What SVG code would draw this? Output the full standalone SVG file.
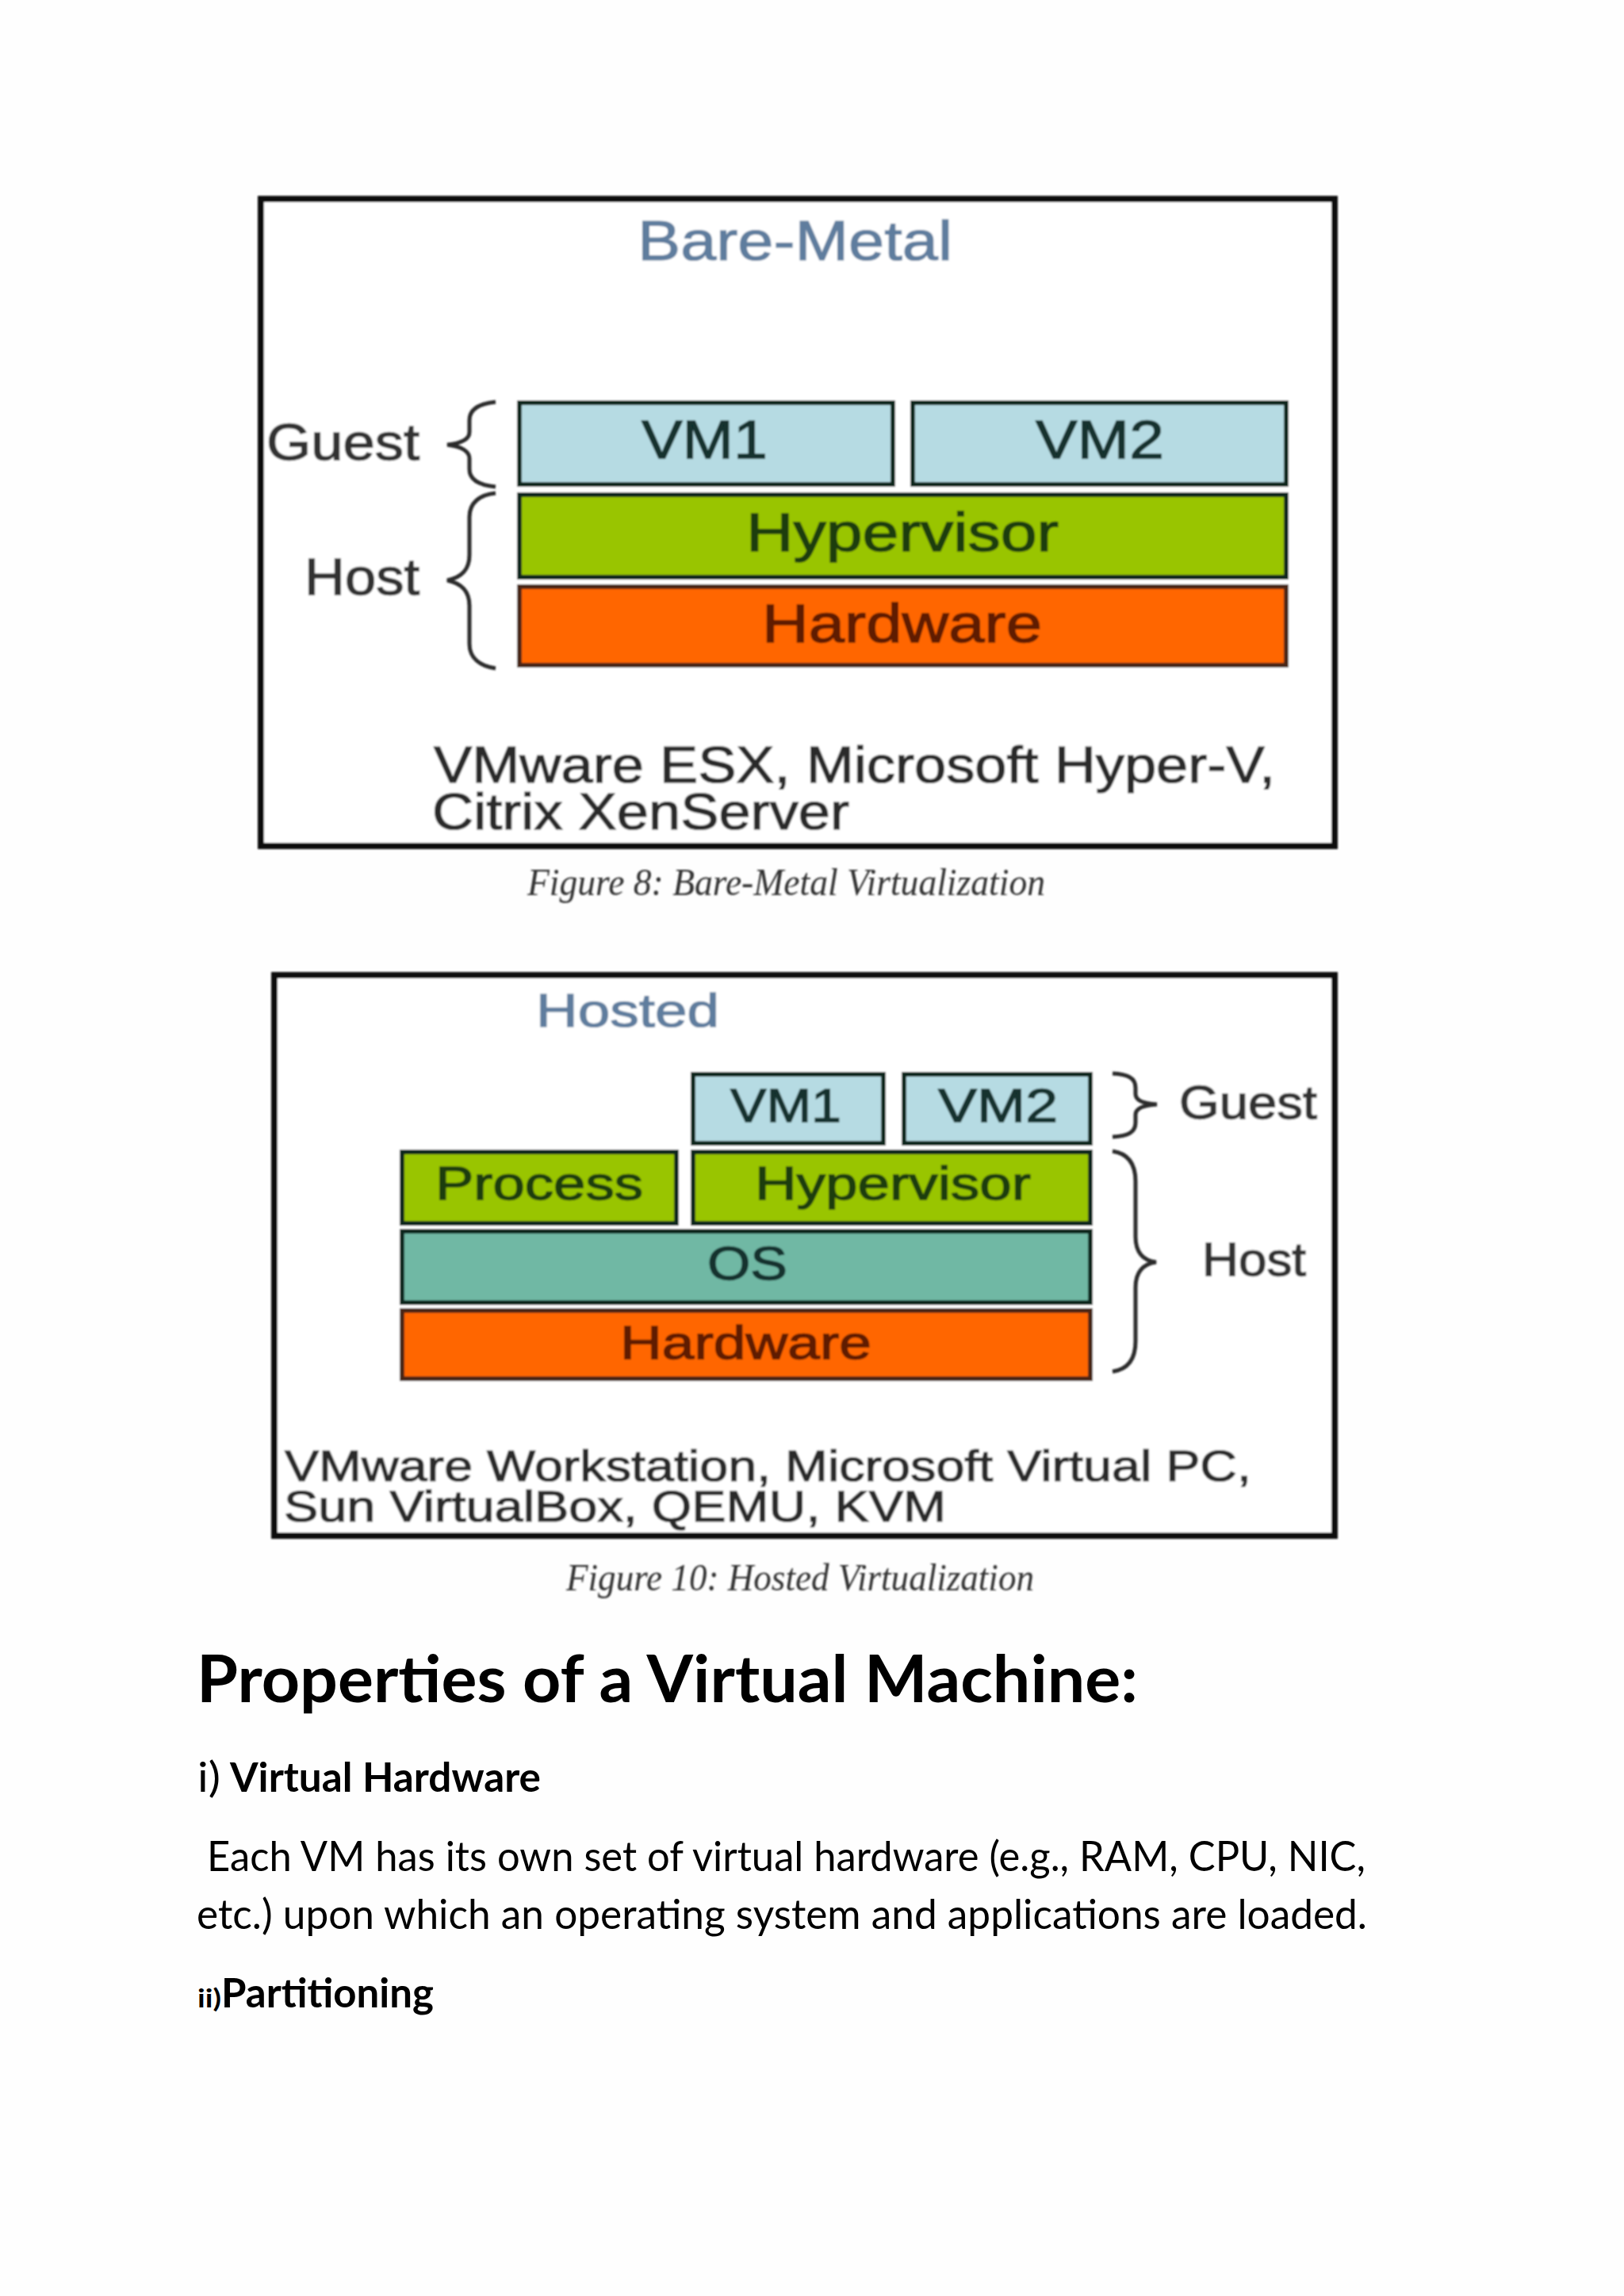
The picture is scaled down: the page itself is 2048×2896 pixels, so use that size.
<svg xmlns="http://www.w3.org/2000/svg" width="2048" height="2896" viewBox="0 0 2048 2896">
<defs>
<filter id="soft" x="-2%" y="-2%" width="104%" height="104%"><feGaussianBlur stdDeviation="1"/></filter>
</defs>
<style>
.frame{fill:#fff;stroke:#0a0a0a;stroke-width:8}
.box{stroke:#10261f;stroke-width:6}
.vm{fill:#b6dbe3}
.hv{fill:#99c500}
.hw{fill:#ff6600;stroke:#4a2814}
.os{fill:#70b8a4}
.brace{fill:none;stroke:#2a2a2a;stroke-width:5}
text{font-family:"Liberation Sans",Arial,sans-serif}
.title{fill:#5f7d9e;stroke:#5f7d9e;stroke-width:1.2}
.lab{fill:#333;stroke:#333;stroke-width:1.4}
.in{fill:#12302e;stroke:#12302e;stroke-width:1.4}
.inh{fill:#1f3d10;stroke:#1f3d10;stroke-width:1.4}
.inw{fill:#5e1a00;stroke:#5e1a00;stroke-width:1.4}
.note{fill:#2a2a2a;stroke:#2a2a2a;stroke-width:1.2}
.cap{font-family:"Liberation Serif","Times New Roman",serif;font-style:italic;fill:#333}
.body{font-family:Lato,"Open Sans",sans-serif;fill:#000}
.b{font-weight:700}
</style>
<rect id="page" width="2048" height="2896" fill="#fefefe"/>
<g id="figure-8" filter="url(#soft)">
<rect id="bare-frame" class="frame" x="329" y="251" width="1354" height="816"/>
<text class="title" x="804" y="328" font-size="71" textLength="397" lengthAdjust="spacingAndGlyphs">Bare-Metal</text>
<g id="bare-labels">
<text class="lab" x="336" y="580" font-size="65" textLength="193" lengthAdjust="spacingAndGlyphs">Guest</text>
<text class="lab" x="384" y="750" font-size="65" textLength="145" lengthAdjust="spacingAndGlyphs">Host</text>
</g>
<g id="bare-vm1"><rect class="box vm" x="655" y="508" width="471" height="103"/><text class="in" x="809" y="578" font-size="68" textLength="159" lengthAdjust="spacingAndGlyphs">VM1</text></g>
<g id="bare-vm2"><rect class="box vm" x="1151" y="508" width="471" height="103"/><text class="in" x="1306" y="578" font-size="68" textLength="162" lengthAdjust="spacingAndGlyphs">VM2</text></g>
<g id="bare-hypervisor"><rect class="box hv" x="655" y="624" width="967" height="104"/><text class="inh" x="941" y="695" font-size="68" textLength="394" lengthAdjust="spacingAndGlyphs">Hypervisor</text></g>
<g id="bare-hardware"><rect class="box hw" x="655" y="740" width="967" height="99"/><text class="inw" x="961" y="810" font-size="68" textLength="353" lengthAdjust="spacingAndGlyphs">Hardware</text></g>
<g id="bare-note">
<text class="note" x="547" y="987" font-size="64" textLength="1061" lengthAdjust="spacingAndGlyphs">VMware ESX, Microsoft Hyper-V,</text>
<text class="note" x="545" y="1046" font-size="64" textLength="526" lengthAdjust="spacingAndGlyphs">Citrix XenServer</text>
</g>
<text id="caption-8" class="cap" x="665" y="1129" font-size="49" textLength="653" lengthAdjust="spacingAndGlyphs">Figure 8: Bare-Metal Virtualization</text>
</g>
<g id="figure-10" filter="url(#soft)">
<rect id="hosted-frame" class="frame" x="346" y="1230" width="1337" height="707"/>
<text class="title" x="676" y="1295" font-size="60" textLength="231" lengthAdjust="spacingAndGlyphs">Hosted</text>
<g id="hosted-vm1"><rect class="box vm" x="874" y="1355" width="240" height="87"/><text class="in" x="921" y="1415" font-size="59" textLength="140" lengthAdjust="spacingAndGlyphs">VM1</text></g>
<g id="hosted-vm2"><rect class="box vm" x="1140" y="1355" width="235" height="87"/><text class="in" x="1183" y="1415" font-size="59" textLength="151" lengthAdjust="spacingAndGlyphs">VM2</text></g>
<g id="hosted-process"><rect class="box hv" x="507" y="1453" width="346" height="90"/><text class="inh" x="549" y="1513" font-size="59" textLength="262" lengthAdjust="spacingAndGlyphs">Process</text></g>
<g id="hosted-hypervisor"><rect class="box hv" x="874" y="1453" width="501" height="90"/><text class="inh" x="952" y="1513" font-size="59" textLength="348" lengthAdjust="spacingAndGlyphs">Hypervisor</text></g>
<g id="hosted-os"><rect class="box os" x="507" y="1553" width="868" height="90"/><text class="in" x="892" y="1614" font-size="59" textLength="101" lengthAdjust="spacingAndGlyphs">OS</text></g>
<g id="hosted-hardware"><rect class="box hw" x="507" y="1653" width="868" height="86"/><text class="inw" x="782" y="1714" font-size="59" textLength="317" lengthAdjust="spacingAndGlyphs">Hardware</text></g>
<g id="hosted-labels">
<text class="lab" x="1487" y="1411" font-size="59" textLength="174" lengthAdjust="spacingAndGlyphs">Guest</text>
<text class="lab" x="1516" y="1609" font-size="59" textLength="131" lengthAdjust="spacingAndGlyphs">Host</text>
</g>
<g id="hosted-note">
<text class="note" x="359" y="1868" font-size="56" textLength="1219" lengthAdjust="spacingAndGlyphs">VMware Workstation, Microsoft Virtual PC,</text>
<text class="note" x="358" y="1919" font-size="56" textLength="835" lengthAdjust="spacingAndGlyphs">Sun VirtualBox, QEMU, KVM</text>
</g>
<text id="caption-10" class="cap" x="714" y="2006" font-size="49" textLength="590" lengthAdjust="spacingAndGlyphs">Figure 10: Hosted Virtualization</text>
</g>
<g id="connectors" filter="url(#soft)">
<path class="brace" d="M625 507C605 509 592 516 592 530V545C592 553 583 559 564 561C583 563 592 570 592 578V592C592 606 605 612 625 614"/>
<path class="brace" d="M625 622C605 624 592 634 592 652V700C592 718 583 728 564 732C583 736 592 746 592 764V812C592 830 605 840 625 843"/>
<path class="brace" d="M1403 1354C1423 1355 1432 1360 1432 1372V1380C1432 1388 1442 1392 1459 1393C1442 1394 1432 1398 1432 1406V1416C1432 1428 1423 1433 1403 1434"/>
<path class="brace" d="M1403 1452C1423 1455 1432 1468 1432 1490V1560C1432 1580 1442 1590 1458 1592C1442 1594 1432 1604 1432 1624V1692C1432 1714 1423 1727 1403 1730"/>
</g>
<g id="properties">
<text class="body b" x="248" y="2147" font-size="82" textLength="1187" lengthAdjust="spacingAndGlyphs">Properties of a Virtual Machine:</text>
<text class="body" x="249" y="2260" font-size="52" textLength="29" lengthAdjust="spacingAndGlyphs">i)</text>
<text class="body b" x="290" y="2260" font-size="52" textLength="392" lengthAdjust="spacingAndGlyphs">Virtual Hardware</text>
<text class="body" x="261" y="2360" font-size="52" textLength="1461" lengthAdjust="spacingAndGlyphs">Each VM has its own set of virtual hardware (e.g., RAM, CPU, NIC,</text>
<text class="body" x="248" y="2433" font-size="52" textLength="1476" lengthAdjust="spacingAndGlyphs">etc.) upon which an operating system and applications are loaded.</text>
<text class="body b" x="249" y="2532" font-size="32" textLength="30" lengthAdjust="spacingAndGlyphs">ii)</text>
<text class="body b" x="279" y="2532" font-size="52" textLength="268" lengthAdjust="spacingAndGlyphs">Partitioning</text>
</g>
</svg>
